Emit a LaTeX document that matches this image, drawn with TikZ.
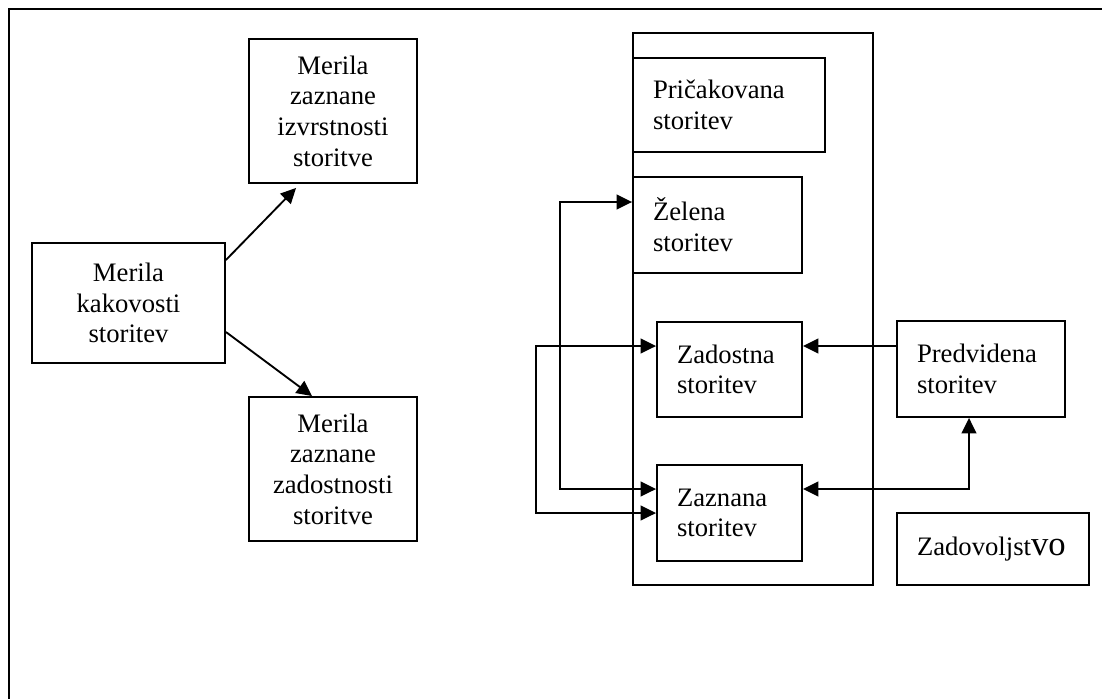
\documentclass[tikz,border=0pt]{standalone}
\usepackage{fontspec}
\setmainfont{Liberation Serif}
\usetikzlibrary{arrows.meta,calc}

\tikzset{
    merilo/.style={draw, line width=1.4pt, align=center, inner sep=0pt},
    storitev/.style={draw, line width=1.4pt, align=left, inner xsep=15pt, inner ysep=0pt},
}

\begin{document}
\begin{tikzpicture}[x=0.75pt, y=-0.75pt, >={Triangle[length=11.5pt,width=11pt]},
    font=\fontsize{20}{23}\selectfont, line width=1.4pt]
    \useasboundingbox (0,0) rectangle (1102,699);
    \draw[line width=1.9pt] (9,699)--(9,9)--(1102,9);
    % levo: merila
    \node[merilo, minimum width=144.75pt, minimum height=90pt] (kakovost) at (128.5,303) {Merila\\kakovosti\\storitev};
    \node[merilo, minimum width=126pt, minimum height=108pt] (izvrstnost) at (333,111) {Merila\\zaznane\\izvrstnosti\\storitve};
    \node[merilo, minimum width=126pt, minimum height=108pt] (zadostnost) at (333,469) {Merila\\zaznane\\zadostnosti\\storitve};
    \draw[->] ($(kakovost.east)+(0,-43)$)--($(izvrstnost.south west)+(48,4)$);
    \draw[->] ($(kakovost.east)+(0,29)$)--($(zadostnost.north west)+(64,0)$);
    % desno: storitve
    \node[draw, minimum width=180pt, minimum height=414pt] (okvir) at (753,309) {};
    \node[storitev, minimum width=144pt, minimum height=70.5pt, text width=114pt] (pricakovana) at (729,105) {Pričakovana\\storitev};
    \node[storitev, minimum width=126.75pt, minimum height=72pt, text width=96.75pt] (zelena) at (717.5,225) {Želena\\storitev};
    \node[storitev, minimum width=108.75pt, minimum height=71.25pt, text width=78.75pt] (zadostna) at (729.5,369.5) {Zadostna\\storitev};
    \node[storitev, minimum width=108.75pt, minimum height=72pt, text width=78.75pt] (zaznana) at (729.5,513) {Zaznana\\storitev};
    \node[storitev, minimum width=126pt, minimum height=72pt, text width=96pt] (predvidena) at (981,369) {Predvidena\\storitev};
    \node[storitev, minimum width=144pt, minimum height=54pt, text width=114pt] (zadovoljstvo) at (993,549) {Zadovoljst{\fontsize{26}{23}\selectfont vo}};
    \draw[<->] ($(zaznana.west)+(0,-24)$)--++(-96,0)|-($(zelena.west)+(0,-23)$);
    \draw[<->] ($(zadostna.west)+(0,-23.5)$)--++(-120,0)|-(zaznana.west);
    \draw[->] ($(predvidena.west)+(0,-23)$)--($(zadostna.east)+(0,-23.5)$);
    \draw[<->] ($(zaznana.east)+(0,-24)$)-|($(predvidena.south)+(-12,0)$);
\end{tikzpicture}
\end{document}
